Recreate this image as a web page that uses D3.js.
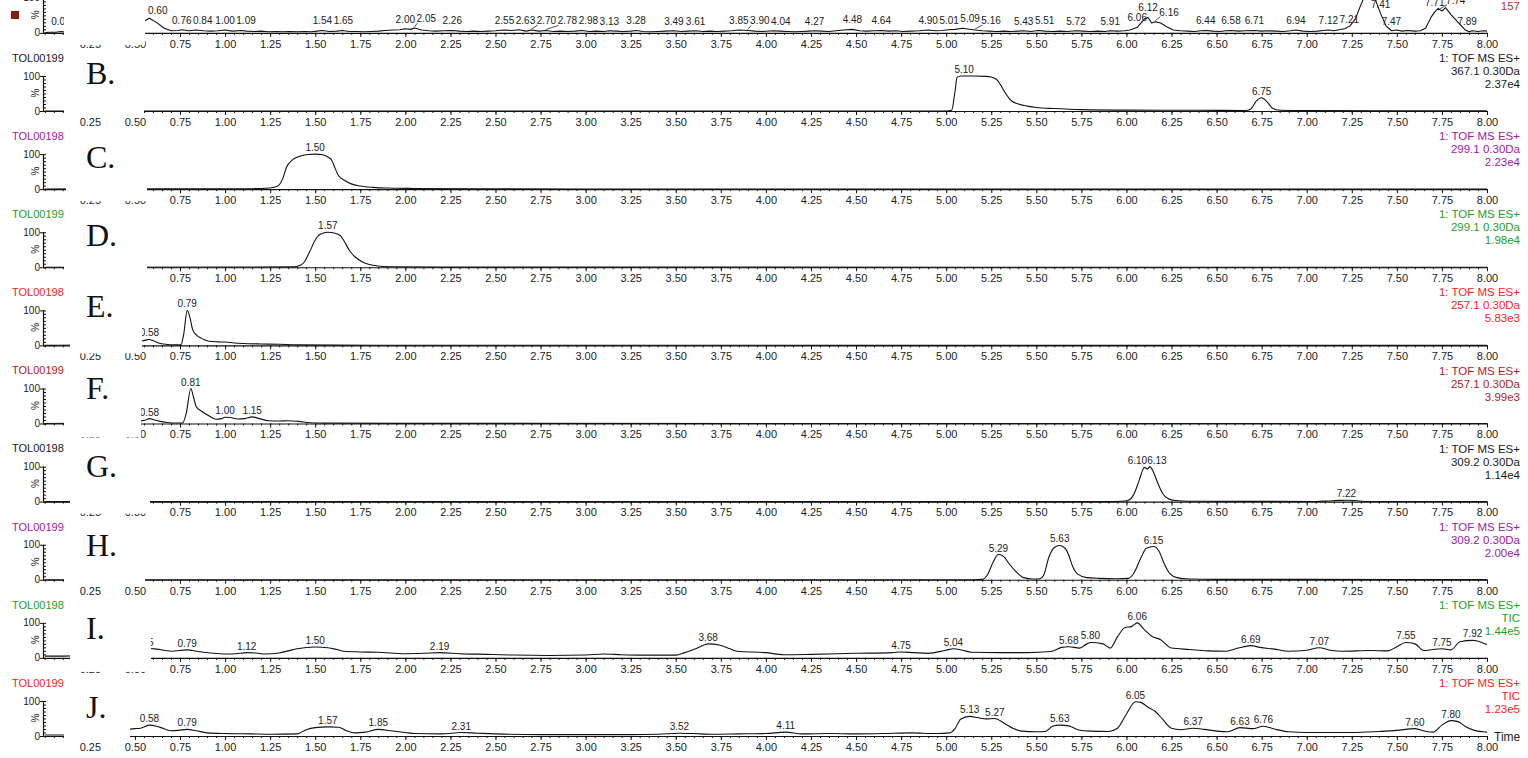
<!DOCTYPE html>
<html>
<head>
<meta charset="utf-8">
<script src="https://cdn.jsdelivr.net/npm/d3@7"></script>
<style>
  html, body { margin: 0; padding: 0; background: #fff; }
  svg { display: block; font-family: "Liberation Sans", Arial, sans-serif; }
</style>
</head>
<body>
<svg id="chart" width="1528" height="758"></svg>
<script>
// ---------- data: retention time (min) vs relative intensity (%) ----------
const timeTicks = [0.25, 0.50, 0.75, 1.00, 1.25, 1.50, 1.75, 2.00, 2.25, 2.50, 2.75, 3.00,
  3.25, 3.50, 3.75, 4.00, 4.25, 4.50, 4.75, 5.00, 5.25, 5.50, 5.75, 6.00, 6.25, 6.50,
  6.75, 7.00, 7.25, 7.50, 7.75, 8.00];

const traceA = [[0.00,1],[0.03,2],[0.06,2],[0.09,4],[0.12,2],[0.30,3],[0.50,20],[0.58,42],[0.62,30],[0.66,14],
  [0.70,6],[0.74,7],[0.76,9],[0.80,6],[0.84,8],[0.88,6],[0.92,5],[0.96,6],[1.00,8],[1.04,5],[1.09,7],[1.12,5],
  [1.16,4],[1.20,5],[1.24,3],[1.28,4],[1.32,3],[1.36,4],[1.40,3],[1.44,4],[1.48,3],[1.51,5],[1.54,7],[1.58,4],
  [1.62,5],[1.65,7],[1.69,4],[1.73,4],[1.77,3],[1.81,4],[1.85,5],[1.89,7],[1.93,8],[1.97,9],[2.00,12],[2.03,10],
  [2.05,14],[2.09,8],[2.13,6],[2.17,5],[2.21,6],[2.26,7],[2.30,5],[2.34,4],[2.38,5],[2.42,4],[2.46,5],[2.50,6],
  [2.55,8],[2.59,7],[2.63,9],[2.67,5],[2.70,8],[2.74,5],[2.78,7],[2.82,4],[2.86,5],[2.90,4],[2.94,5],[2.98,7],
  [3.02,4],[3.06,5],[3.10,4],[3.13,6],[3.17,5],[3.21,4],[3.25,5],[3.28,7],[3.32,4],[3.36,3],[3.40,4],[3.44,5],
  [3.49,6],[3.53,4],[3.57,5],[3.61,6],[3.65,4],[3.69,5],[3.73,4],[3.77,5],[3.81,6],[3.85,8],[3.90,7],[3.94,5],
  [3.98,4],[4.04,6],[4.08,5],[4.12,4],[4.16,3],[4.20,4],[4.24,5],[4.27,6],[4.31,5],[4.35,4],[4.39,6],[4.43,8],
  [4.48,10],[4.52,6],[4.56,5],[4.60,6],[4.64,7],[4.68,5],[4.72,6],[4.76,4],[4.80,5],[4.85,6],[4.90,8],[4.94,6],
  [4.98,7],[5.01,9],[5.05,10],[5.09,13],[5.12,11],[5.16,8],[5.20,6],[5.24,5],[5.28,4],[5.32,5],[5.36,4],[5.40,5],
  [5.43,6],[5.47,4],[5.51,7],[5.55,5],[5.59,4],[5.63,5],[5.67,4],[5.72,6],[5.76,5],[5.80,4],[5.84,5],[5.88,4],
  [5.91,6],[5.95,5],[5.99,6],[6.02,8],[6.06,16],[6.10,40],[6.12,44],[6.14,28],[6.16,32],[6.19,28],[6.22,18],
  [6.26,8],[6.30,6],[6.34,5],[6.38,4],[6.41,6],[6.44,7],[6.48,5],[6.52,4],[6.55,6],[6.58,7],[6.62,5],[6.66,6],
  [6.71,7],[6.75,5],[6.79,6],[6.83,5],[6.87,4],[6.91,6],[6.94,8],[6.98,5],[7.02,4],[7.06,5],[7.09,7],[7.12,8],
  [7.15,6],[7.18,9],[7.21,12],[7.24,20],[7.27,40],[7.30,80],[7.33,115],[7.37,110],[7.41,55],[7.44,20],[7.47,6],
  [7.50,8],[7.53,5],[7.56,7],[7.60,5],[7.63,6],[7.66,14],[7.69,45],[7.71,60],[7.73,70],[7.75,62],[7.77,72],
  [7.80,52],[7.84,30],[7.88,8],[7.90,3],[7.92,6],[7.95,4],[7.98,6],[8.00,5]];
const peaksA = [0.09, 0.60, 0.76, 0.84, 1.00, 1.09, 1.54, 1.65, 2.00, 2.05, 2.26, 2.55, 2.63, 2.70, 2.78,
  2.98, 3.13, 3.28, 3.49, 3.61, 3.85, 3.90, 4.04, 4.27, 4.48, 4.64, 4.90, 5.01, 5.09, 5.16, 5.43, 5.51, 5.72,
  5.91, 6.06, 6.12, 6.16, 6.44, 6.58, 6.71, 6.94, 7.12, 7.21, 7.41, 7.47, 7.71, 7.74, 7.89];

const traceB = [[0,0],[5.00,0],[5.03,2],[5.05,60],[5.06,96],[5.08,100],[5.10,100],[5.15,100],[5.22,99],
  [5.25,97],[5.28,90],[5.30,76],[5.33,50],[5.36,30],[5.40,20],[5.45,14],[5.50,10],[5.60,7],[5.75,4],[6.00,2.5],
  [6.40,2],[6.66,1.5],[6.69,6],[6.72,28],[6.75,38],[6.78,26],[6.81,8],[6.85,2],[7.00,1],[8.00,0.5]];
const peaksB = [5.10, 6.75];

const traceC = [[0,0.5],[0.55,1],[1.00,1],[1.20,1.5],[1.25,3],[1.29,8],[1.32,30],[1.34,62],[1.37,82],[1.41,93],
  [1.46,99],[1.50,100],[1.54,98],[1.57,92],[1.59,84],[1.61,60],[1.63,38],[1.66,26],[1.70,15],[1.75,9],[1.82,5],
  [1.90,3],[2.05,2],[2.40,1],[3.00,0.5],[8.00,0]];
const peaksC = [1.50];

const traceD = [[0,0],[1.38,1],[1.41,4],[1.44,15],[1.47,45],[1.50,78],[1.53,95],[1.57,100],[1.61,97],[1.64,90],
  [1.66,75],[1.69,48],[1.72,30],[1.76,16],[1.80,8],[1.86,3],[1.95,1.5],[2.20,0.5],[8.00,0]];
const peaksD = [1.57];

const traceE = [[0,0],[0.45,3],[0.52,10],[0.56,15],[0.58,17],[0.60,14],[0.63,7],[0.67,3],[0.72,1.5],[0.755,1.5],
  [0.77,30],[0.79,100],[0.805,80],[0.82,45],[0.84,30],[0.87,20],[0.91,12],[0.96,10],[1.00,9.5],[1.05,7],
  [1.10,5.5],[1.20,4],[1.30,3],[1.40,1.5],[1.60,0.8],[2.00,0.3],[8.00,0]];
const peaksE = [0.58, 0.79];

const traceF = [[0,0],[0.45,2],[0.52,6],[0.56,10],[0.58,14],[0.61,10],[0.64,6],[0.68,3],[0.72,1.5],[0.765,1.5],
  [0.785,30],[0.81,100],[0.825,75],[0.84,48],[0.87,35],[0.91,22],[0.95,12],[0.98,14],[1.00,18],[1.03,17],
  [1.07,13],[1.11,14],[1.15,19],[1.19,14],[1.24,8],[1.29,7],[1.35,8],[1.41,6],[1.47,2],[1.55,1],[2.00,0.3],[8.00,0]];
const peaksF = [0.58, 0.81, 1.00, 1.15];

const traceG = [[0,0],[5.90,0],[5.97,1],[6.01,4],[6.04,20],[6.07,60],[6.09,90],[6.10,98],[6.115,93],[6.13,100],
  [6.15,84],[6.17,58],[6.20,24],[6.23,9],[6.27,3],[6.35,1],[7.05,0.5],[7.12,2],[7.18,3.5],[7.22,4],[7.27,3],
  [7.32,0.5],[8.00,0]];
const peaksG = [6.10, 6.13, 7.22];

const traceH = [[0,0],[5.15,0],[5.20,1],[5.23,15],[5.26,50],[5.29,72],[5.32,66],[5.35,45],[5.39,22],[5.43,6],
  [5.48,2],[5.52,3],[5.54,12],[5.57,65],[5.60,92],[5.63,98],[5.66,90],[5.68,70],[5.70,40],[5.73,16],[5.78,6],
  [5.85,4],[5.95,3],[6.01,4],[6.04,18],[6.08,62],[6.11,90],[6.15,95],[6.18,82],[6.21,45],[6.24,18],[6.28,6],
  [6.35,2],[6.50,1],[7.00,1],[8.00,0.5]];
const peaksH = [5.29, 5.63, 6.15];

const traceI = [[0.00,5],[0.10,5],[0.30,8],[0.50,22],[0.58,27],[0.62,25],[0.70,19],[0.79,23],[0.85,18],[0.92,14],
  [1.00,11],[1.06,12],[1.12,15],[1.17,14],[1.22,11],[1.30,14],[1.35,20],[1.40,26],[1.50,31],[1.57,29],[1.62,24],
  [1.66,19],[1.75,17],[1.85,16],[2.00,12],[2.10,13],[2.19,15],[2.30,12],[2.45,10],[2.60,8],[2.80,7],[3.00,8],
  [3.10,11],[3.20,9],[3.30,8],[3.50,8],[3.55,15],[3.62,28],[3.68,40],[3.74,37],[3.80,26],[3.84,19],[4.00,15],
  [4.10,9],[4.25,10],[4.50,13],[4.70,15],[4.75,17],[4.82,15],[4.90,13],[5.00,22],[5.04,26],[5.09,22],[5.14,16],
  [5.30,15],[5.45,15],[5.58,18],[5.64,30],[5.68,32],[5.74,28],[5.78,40],[5.80,44],[5.87,40],[5.91,28],[5.95,60],
  [5.99,86],[6.03,90],[6.06,100],[6.10,80],[6.14,62],[6.19,52],[6.25,28],[6.35,24],[6.45,20],[6.55,19],[6.62,28],
  [6.69,35],[6.74,30],[6.82,25],[6.90,19],[7.00,22],[7.07,29],[7.13,22],[7.20,19],[7.35,21],[7.45,20],[7.50,32],
  [7.55,44],[7.60,40],[7.65,21],[7.70,24],[7.75,26],[7.80,23],[7.85,46],[7.92,50],[7.94,49],[7.98,42],[8.00,38]];
const peaksI = [0.55, 0.79, 1.12, 1.50, 2.19, 3.68, 4.75, 5.04, 5.68, 5.80, 6.06, 6.69, 7.07, 7.55, 7.75, 7.92];

const traceJ = [[0.00,3],[0.10,3],[0.25,6],[0.40,14],[0.50,21],[0.53,22],[0.58,31],[0.62,28],[0.66,21],[0.70,15],
  [0.74,16],[0.79,19],[0.84,15],[0.90,9],[1.00,7],[1.15,6],[1.25,5],[1.40,6],[1.45,18],[1.50,24],[1.57,26],
  [1.63,25],[1.67,16],[1.72,9],[1.78,11],[1.85,19],[1.92,15],[2.00,10],[2.05,7],[2.20,6],[2.31,10],[2.40,8],
  [2.50,6],[2.75,4],[3.00,4],[3.25,4],[3.40,5],[3.52,8],[3.60,7],[3.70,5],[3.85,6],[4.00,7],[4.11,11],[4.20,6],
  [4.35,7],[4.50,6],[4.65,7],[4.80,9],[4.95,7],[5.02,9],[5.05,22],[5.08,48],[5.13,56],[5.18,52],[5.22,49],
  [5.27,50],[5.32,37],[5.37,22],[5.42,14],[5.50,12],[5.55,13],[5.59,28],[5.63,31],[5.68,29],[5.73,18],[5.80,14],
  [5.90,13],[5.95,22],[6.00,63],[6.05,98],[6.08,96],[6.12,82],[6.16,70],[6.20,48],[6.25,22],[6.30,18],[6.37,22],
  [6.43,19],[6.50,14],[6.56,12],[6.63,24],[6.70,21],[6.76,28],[6.82,20],[6.90,12],[7.00,10],[7.25,10],[7.40,13],
  [7.50,16],[7.60,21],[7.67,12],[7.70,11],[7.75,31],[7.80,44],[7.84,41],[7.88,27],[7.93,16],[7.98,12],[8.00,11]];
const peaksJ = [0.58, 0.79, 1.57, 1.85, 2.31, 3.52, 4.11, 5.13, 5.27, 5.63, 6.05, 6.37, 6.63, 6.76, 7.60, 7.80];

const panelLetters = ["", "B.", "C.", "D.", "E.", "F.", "G.", "H.", "I.", "J."];
const sampleNames = ["", "TOL00199", "TOL00198", "TOL00199", "TOL00198", "TOL00199", "TOL00198", "TOL00199", "TOL00198", "TOL00199"];
const channelInfo = [
  ["", "", "157"],
  ["1: TOF MS ES+", "367.1 0.30Da", "2.37e4"],
  ["1: TOF MS ES+", "299.1 0.30Da", "2.23e4"],
  ["1: TOF MS ES+", "299.1 0.30Da", "1.98e4"],
  ["1: TOF MS ES+", "257.1 0.30Da", "5.83e3"],
  ["1: TOF MS ES+", "257.1 0.30Da", "3.99e3"],
  ["1: TOF MS ES+", "309.2 0.30Da", "1.14e4"],
  ["1: TOF MS ES+", "309.2 0.30Da", "2.00e4"],
  ["1: TOF MS ES+", "TIC", "1.44e5"],
  ["1: TOF MS ES+", "TIC", "1.23e5"]
];
const traces = [traceA, traceB, traceC, traceD, traceE, traceF, traceG, traceH, traceI, traceJ];
const peaks = [peaksA, peaksB, peaksC, peaksD, peaksE, peaksF, peaksG, peaksH, peaksI, peaksJ];

// ---------- styling / layout ----------
const panelColors = ["#b03434", "#1a1a1a", "#a020a0", "#1f9e1f", "#ff2020", "#b01c1c", "#1a1a1a", "#a020a0", "#1f9e1f", "#ff2020"];
const letterOffsets = [0, -38, -32, -32, -39, -36, -36, -35, -30, -29];
// white mask per panel: [left, right, bottom below baseline]
const masks = [[64,145,12],[64,144,5],[66,147,12],[64,147,20],[70,142,8],[64,141,14],[70,150,12],[64,145,5],[70,151,14],[64,130,5]];

const svg = d3.select("#chart");
const x = d3.scaleLinear().domain([0, 8]).range([44.8, 1487]);
const axisX = 43;
const plotH = 35;
const minorTimes = d3.range(0, 161).map(i => i * 0.05);

function valueAt(trace, t) {
  for (let k = 1; k < trace.length; k++) {
    const a = trace[k - 1], b = trace[k];
    if (t >= a[0] && t <= b[0]) {
      return a[1] + (b[1] - a[1]) * (t - a[0]) / (b[0] - a[0] || 1);
    }
  }
  return 0;
}

traces.forEach((trace, i) => {
  const y0 = 111 + (i - 1) * 78.125;
  const y = d3.scaleLinear().domain([0, 100]).range([y0, y0 - plotH]);
  const g = svg.append("g");
  const color = panelColors[i];
  const m = masks[i];

  // time axis: minor then major ticks
  const minor = g.append("g").attr("transform", `translate(0,${y0})`)
    .call(d3.axisBottom(x).tickValues(minorTimes).tickSize(2).tickFormat(""));
  minor.select(".domain").remove();
  const major = g.append("g").attr("transform", `translate(0,${y0})`)
    .call(d3.axisBottom(x).tickValues(timeTicks).tickSize(4).tickPadding(3).tickFormat(d3.format(".2f")));
  major.select(".domain").remove();
  major.selectAll("text").attr("font-size", 11).attr("fill", "#222")
    .attr("font-family", "Liberation Sans, Arial, sans-serif");
  g.selectAll(".tick line").attr("stroke", "#111");
  g.append("line").attr("x1", axisX).attr("x2", x(8)).attr("y1", y0 + 0.5).attr("y2", y0 + 0.5)
    .attr("stroke", "#111").attr("stroke-width", 1.2);

  // intensity axis
  g.append("line").attr("x1", axisX + 0.5).attr("x2", axisX + 0.5).attr("y1", y(100)).attr("y2", y0)
    .attr("stroke", "#111").attr("stroke-width", 1.2);
  g.selectAll(".ymin").data(d3.range(0, 101, 10)).join("line")
    .attr("x1", axisX).attr("x2", axisX + 3)
    .attr("y1", d => y(d) + 0.5).attr("y2", d => y(d) + 0.5).attr("stroke", "#111");
  g.selectAll(".ymaj").data([0, 100]).join("line")
    .attr("x1", axisX - 3).attr("x2", axisX)
    .attr("y1", d => y(d) + 0.5).attr("y2", d => y(d) + 0.5).attr("stroke", "#111");
  g.selectAll(".ylab").data([0, 100]).join("text")
    .attr("x", axisX - 3).attr("y", d => y(d)).attr("dy", "0.35em")
    .attr("text-anchor", "end").attr("font-size", 10).attr("fill", "#222").text(d => d);
  g.append("text").attr("transform", `translate(${axisX - 8},${y0 - 18}) rotate(-90)`)
    .attr("text-anchor", "middle").attr("dy", "0.35em").attr("font-size", 10).attr("fill", "#222").text("%");

  // chromatogram trace
  const line = d3.line().x(d => x(d[0])).y(d => y(d[1]))
    .curve(i === 0 ? d3.curveLinear : d3.curveMonotoneX);
  g.append("path").datum(trace).attr("d", line)
    .attr("fill", "none").attr("stroke", "#111").attr("stroke-width", 1.1).attr("stroke-linejoin", "round");

  // apex labels, spread so that neighbours do not collide
  const gap = i === 0 ? 6 : 3;
  const texts = g.selectAll(".pk").data(peaks[i]).join("text")
    .attr("class", "pk").attr("text-anchor", "middle").attr("font-size", 10).attr("fill", "#222")
    .text(t => t.toFixed(2));
  const items = texts.nodes().map((node, k) => {
    const t = peaks[i][k];
    const yt = y(valueAt(trace, t));
    return { node, t, yt, w: node.getComputedTextLength(), cx: x(t), by: yt - gap };
  });
  if (i === 0) {
    // busy noise trace: nudge crowded labels to the right along one row
    const placed = [];
    items.forEach(it => {
      it.by = Math.min(it.by, y0 - 6);
      if (x(it.t) > m[0]) it.cx = Math.max(it.cx, m[1] + 3 + it.w / 2);
      placed.slice(-3).forEach(p => {
        if (Math.abs(p.by - it.by) >= 9) return;
        const overlap = (p.cx + p.w / 2 + 1.5) - (it.cx - it.w / 2);
        if (overlap > 0) it.cx += overlap;
      });
      placed.push(it);
    });
  } else {
    for (let k = 1; k < items.length; k++) {
      const a = items[k - 1], b = items[k];
      const overlap = (a.cx + a.w / 2) - (b.cx - b.w / 2);
      if (overlap > 0 && Math.abs(a.by - b.by) < 10) {
        a.cx -= overlap / 2;
        b.cx += overlap / 2;
      }
    }
  }
  items.forEach(it => {
    d3.select(it.node).attr("x", it.cx).attr("y", it.by);
    const px = x(it.t);
    const lx = Math.max(it.cx - it.w / 2 + 1, Math.min(it.cx + it.w / 2 - 1, px));
    const shifted = Math.abs(it.cx - px) > it.w / 2;
    if (it.yt - 1 - (it.by + 1) > 4 || shifted) {
      g.append("line").attr("x1", px).attr("y1", it.yt - 1)
        .attr("x2", lx).attr("y2", it.by + 1)
        .attr("stroke", "#222").attr("stroke-width", 0.8);
    }
  });

  // white panel over the start of the run
  g.append("rect").attr("x", m[0]).attr("y", y0 - 48).attr("width", m[1] - m[0]).attr("height", 48 + m[2])
    .attr("fill", "#fff");

  // panel letter
  if (panelLetters[i]) {
    g.append("text").attr("x", 86).attr("y", y0 + letterOffsets[i] + 11)
      .attr("font-family", "Liberation Serif, Times New Roman, serif").attr("font-size", 32)
      .attr("fill", "#111").text(panelLetters[i]);
  }

  // sample name and channel description
  if (sampleNames[i]) {
    g.append("text").attr("x", 12).attr("y", y0 - 53).attr("dy", "0.35em")
      .attr("font-size", 11).attr("fill", color).text(sampleNames[i]);
  }
  channelInfo[i].forEach((s, k) => {
    if (!s) return;
    g.append("text").attr("x", 1520).attr("y", y0 - 53 + k * 13).attr("dy", "0.35em")
      .attr("text-anchor", "end").attr("font-size", 11.5).attr("fill", color).text(s);
  });

  if (i === 0) {
    g.append("rect").attr("x", 11).attr("y", 11).attr("width", 8).attr("height", 8).attr("fill", "#8b1a1a");
  }
  if (i === traces.length - 1) {
    g.append("text").attr("x", 1494).attr("y", y0 + 1).attr("dy", "0.35em")
      .attr("font-size", 12).attr("fill", "#222").text("Time");
  }
});
</script>
</body>
</html>
